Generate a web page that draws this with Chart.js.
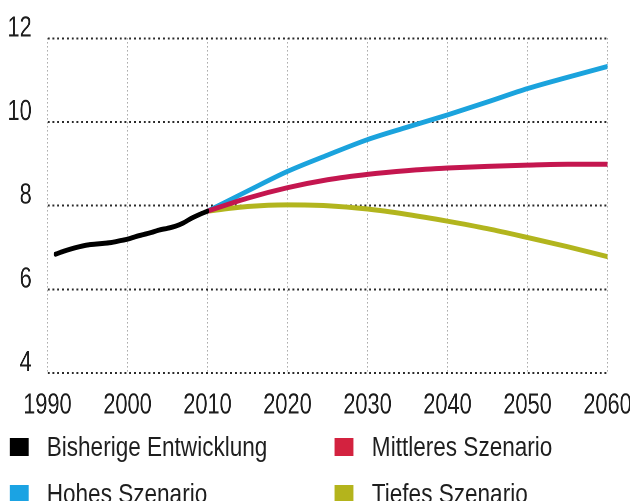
<!DOCTYPE html>
<html lang="de">
<head>
<meta charset="UTF-8">
<title>Bevölkerungsszenarien</title>
<script src="https://cdn.jsdelivr.net/npm/chart.js"></script>
<style>
  body { margin: 0; background: #fff; width: 630px; height: 501px; overflow: hidden; position: relative;
         font-family: 'Liberation Sans', Arial, sans-serif; color: #1e1e1e; }
  /* keine Narrow-Schrift installiert: Bühne breiter anlegen und horizontal stauchen */
  #stage { position: absolute; left: 0; top: 0; width: 840px; height: 425px; transform: scaleX(0.75); transform-origin: 0 0; }
  #wrap { position: absolute; left: 0; top: 0; width: 840px; height: 425px; }
  #legend { position: absolute; left: 0; top: 0; width: 770px; height: 501px; transform: scaleX(0.82); transform-origin: 0 0; }
  .leg { position: absolute; display: flex; align-items: center; font-size: 27.5px; line-height: 30px; white-space: nowrap; }
  .leg i { display: inline-block; width: 23px; height: 18px; margin-right: 22.5px; }
</style>
</head>
<body>
<div id="stage">
  <div id="wrap"><canvas id="chart"></canvas></div>
</div>
<div id="legend"></div>
<script>
// Bisherige Entwicklung (Mio. Einwohner)
const histYears = [1991, 1992, 1993, 1994, 1995, 1996, 1997, 1998, 1999, 2000,
                   2001, 2002, 2003, 2004, 2005, 2006, 2007, 2008, 2009, 2010];
const histValues = [6.84, 6.91, 6.97, 7.02, 7.06, 7.08, 7.10, 7.12, 7.16, 7.20,
                    7.26, 7.31, 7.36, 7.42, 7.46, 7.51, 7.59, 7.70, 7.79, 7.87];

// Szenarien 2010-2060
const scenYears = [2010, 2015, 2020, 2025, 2030, 2035, 2040, 2045, 2050, 2055, 2060];
const mittel = [7.87, 8.18, 8.43, 8.62, 8.75, 8.84, 8.90, 8.94, 8.97, 8.99, 8.99];
const hoch   = [7.87, 8.35, 8.82, 9.21, 9.58, 9.88, 10.17, 10.48, 10.80, 11.07, 11.33];
const tief   = [7.87, 7.98, 8.02, 8.00, 7.92, 7.79, 7.63, 7.45, 7.24, 7.02, 6.78];

const xTicks = [1990, 2000, 2010, 2020, 2030, 2040, 2050, 2060];
const yTicks = [4, 6, 8, 10, 12];

const labels = ['Bisherige Entwicklung', 'Mittleres Szenario', 'Hohes Szenario', 'Tiefes Szenario'];
const lineColors = ['#000000', '#c4164f', '#1ba3dd', '#b2b51e'];
const legendColors = ['#000000', '#d3223f', '#1ba3e3', '#b4b41c'];

function pts(xs, ys) { return xs.map((x, i) => ({ x: x, y: ys[i] })); }

const series = [pts(histYears, histValues), pts(scenYears, mittel), pts(scenYears, hoch), pts(scenYears, tief)];

const tickFont = { family: "'Liberation Sans', Arial, sans-serif", size: 29 };

const chart = new Chart(document.getElementById('chart'), {
  type: 'line',
  data: {
    datasets: series.map((d, i) => ({
      label: labels[i],
      data: d,
      borderColor: lineColors[i],
      backgroundColor: legendColors[i],
      borderWidth: 5,
      borderCapStyle: 'round',
      borderJoinStyle: 'round',
      pointRadius: 0,
      cubicInterpolationMode: 'monotone',
      fill: false
    }))
  },
  options: {
    responsive: true,
    maintainAspectRatio: false,
    animation: false,
    devicePixelRatio: 2,
    layout: { padding: { top: 37, right: 30, left: 0, bottom: 0 } },
    plugins: { legend: { display: false }, tooltip: { enabled: false } },
    scales: {
      x: {
        type: 'linear',
        min: 1990, max: 2060,
        afterBuildTicks: s => { s.ticks = xTicks.map(v => ({ value: v })); },
        afterFit: s => { s.height = 52; s.paddingLeft = 0; s.paddingRight = 0; },
        ticks: { color: '#1e1e1e', font: tickFont, padding: 15, maxRotation: 0, callback: v => String(v) },
        grid: { color: '#7a7a7a', lineWidth: 1.4, drawTicks: false },
        border: { display: false, dash: [1, 3] }
      },
      y: {
        min: 4, max: 12,
        afterBuildTicks: s => { s.ticks = yTicks.map(v => ({ value: v })); },
        afterFit: s => { s.width = 63.3; },
        ticks: { color: '#1e1e1e', font: tickFont, padding: 21, labelOffset: -10 },
        grid: { color: '#2a2a2a', lineWidth: 2, drawTicks: false },
        border: { display: false, dash: [2.7, 3.7] }
      }
    }
  }
});

// Legende als 2x2-Raster (Koordinaten vor der Stauchung)
const legendPos = [[11.5, 432], [408, 432], [11.5, 479], [408, 479]];
const legendEl = document.getElementById('legend');
labels.forEach((t, i) => {
  const d = document.createElement('div');
  d.className = 'leg';
  d.style.left = legendPos[i][0] + 'px';
  d.style.top = legendPos[i][1] + 'px';
  d.innerHTML = '<i style="background:' + legendColors[i] + '"></i>' + t;
  legendEl.appendChild(d);
});
</script>
</body>
</html>
